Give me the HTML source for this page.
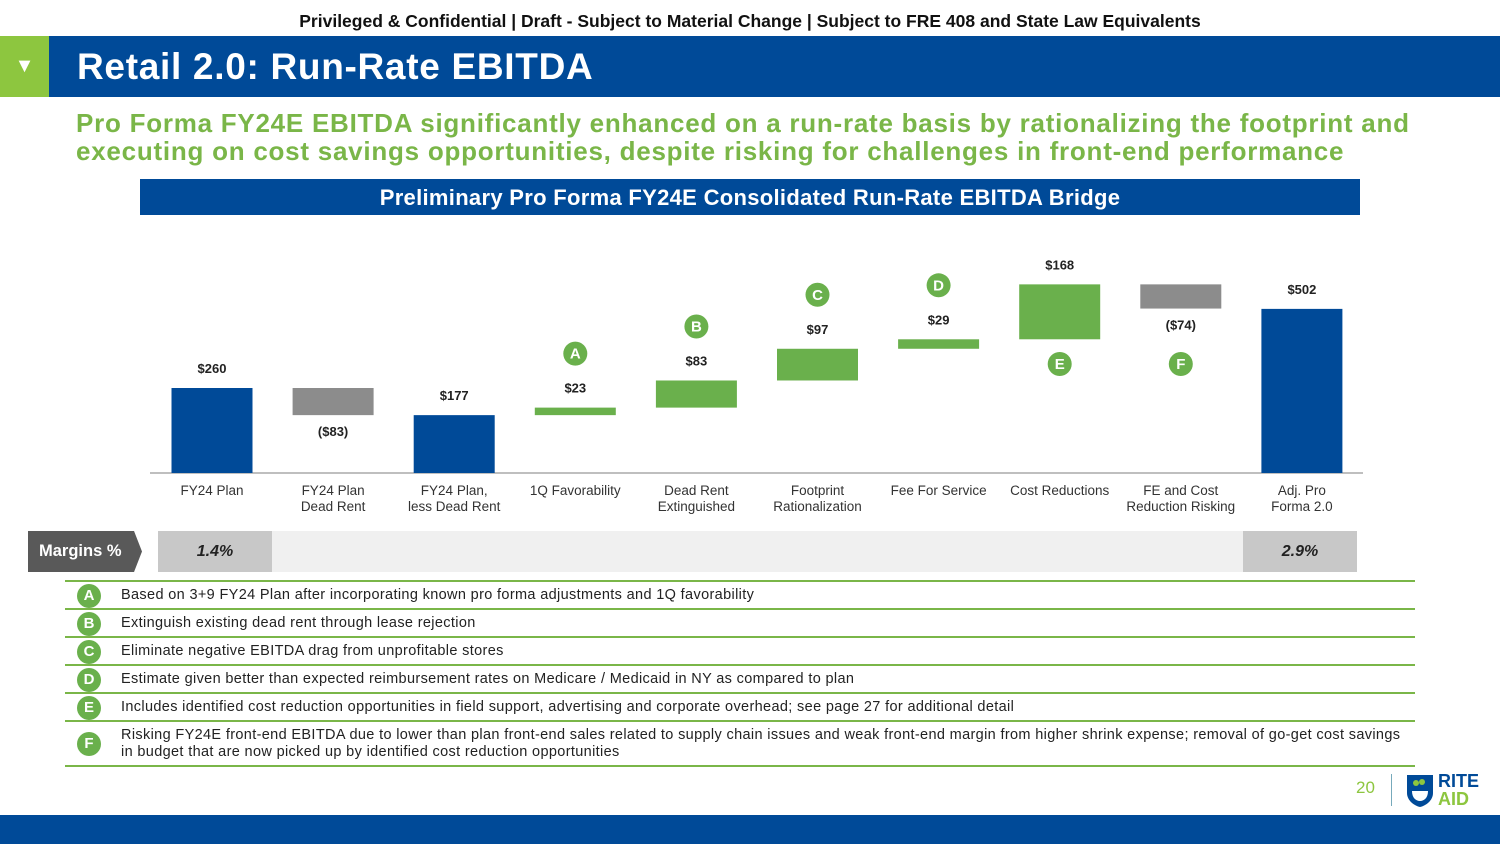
<!DOCTYPE html>
<html><head><meta charset="utf-8"><style>
body{margin:0;width:1500px;height:844px;position:relative;background:#fff;font-family:"Liberation Sans",sans-serif;overflow:hidden}
.abs{position:absolute}
.fn{font-family:"Liberation Sans",sans-serif;font-weight:bold}
.note{position:absolute;left:65px;width:1350px;border-bottom:2px solid #7ab648;font-size:14.5px;letter-spacing:0.35px;color:#222}
.circ{position:absolute;left:12px;width:24px;height:24px;border-radius:50%;background:#6ab04c;color:#fff;font-weight:bold;font-size:15px;text-align:center;line-height:24px;letter-spacing:0}
</style></head><body>
<div class="abs fn" style="left:0;top:11px;width:1500px;text-align:center;font-size:17.5px;color:#111">Privileged &amp; Confidential | Draft - Subject to Material Change | Subject to FRE 408 and State Law Equivalents</div>
<div class="abs" style="left:0;top:36px;width:1500px;height:61px;background:#004a98"></div>
<div class="abs" style="left:0;top:36px;width:49px;height:61px;background:#8dc63f;color:#fff;font-size:20px;text-align:center;line-height:61px">▼</div>
<div class="abs fn" style="left:77px;top:46px;font-size:37px;letter-spacing:0.7px;color:#fff">Retail 2.0: Run-Rate EBITDA</div>
<div class="abs fn" style="left:76px;top:109px;font-size:26px;line-height:28px;letter-spacing:0.75px;color:#7ab648;white-space:nowrap">Pro Forma FY24E EBITDA significantly enhanced on a run-rate basis by rationalizing the footprint and<br>executing on cost savings opportunities, despite risking for challenges in front-end performance</div>
<div class="abs fn" style="left:140px;top:179px;width:1220px;height:36px;background:#004a98;color:#fff;font-size:22px;letter-spacing:0.3px;text-align:center;line-height:37px">Preliminary Pro Forma FY24E Consolidated Run-Rate EBITDA Bridge</div>
<svg id="chart" class="abs" style="left:0;top:0" width="1500" height="530"></svg>
<div class="abs fn" style="left:28px;top:531px;width:114px;height:41px;background:#595959;color:#fff;font-size:16.5px;line-height:41px;padding-left:11px;box-sizing:border-box;clip-path:polygon(0 0,93% 0,100% 50%,93% 100%,0 100%)">Margins %</div>
<div class="abs" style="left:158px;top:531px;width:1199px;height:41px;background:#f0f0f0"></div>
<div class="abs fn" style="left:158px;top:531px;width:114px;height:41px;background:#c8c8c8;font-style:italic;font-size:16px;line-height:41px;text-align:center;color:#222">1.4%</div>
<div class="abs fn" style="left:1243px;top:531px;width:114px;height:41px;background:#c8c8c8;font-style:italic;font-size:16px;line-height:41px;text-align:center;color:#222">2.9%</div>
<div class="abs" style="left:65px;top:580px;width:1350px;border-top:2px solid #7ab648"></div>
<div class="note" style="top:582px;height:26px"><span class="circ" style="top:2px">A</span><span class="abs" style="left:56px;top:5px">Based on 3+9 FY24 Plan after incorporating known pro forma adjustments and 1Q favorability</span></div>
<div class="note" style="top:610px;height:26px"><span class="circ" style="top:2px">B</span><span class="abs" style="left:56px;top:5px">Extinguish existing dead rent through lease rejection</span></div>
<div class="note" style="top:638px;height:26px"><span class="circ" style="top:2px">C</span><span class="abs" style="left:56px;top:5px">Eliminate negative EBITDA drag from unprofitable stores</span></div>
<div class="note" style="top:666px;height:26px"><span class="circ" style="top:2px">D</span><span class="abs" style="left:56px;top:5px">Estimate given better than expected reimbursement rates on Medicare / Medicaid in NY as compared to plan</span></div>
<div class="note" style="top:694px;height:26px"><span class="circ" style="top:2px">E</span><span class="abs" style="left:56px;top:5px">Includes identified cost reduction opportunities in field support, advertising and corporate overhead; see page 27 for additional detail</span></div>
<div class="note" style="top:722px;height:43px"><span class="circ" style="top:10px">F</span><span class="abs" style="left:56px;top:5px;line-height:17px;width:1290px">Risking FY24E front-end EBITDA due to lower than plan front-end sales related to supply chain issues and weak front-end margin from higher shrink expense; removal of go-get cost savings in budget that are now picked up by identified cost reduction opportunities</span></div>
<div class="abs" style="left:1356px;top:778px;font-size:17px;color:#8dc63f">20</div>
<div class="abs" style="left:1391px;top:774px;width:1px;height:32px;background:#7ab"></div>
<svg class="abs" style="left:1405px;top:773px" width="30" height="36"><path d="M2 2H28V20C28 28 20 33 15 34C10 33 2 28 2 20Z" fill="#004a98"/><path d="M7 18H23C23 25 19 28 15 28C11 28 7 25 7 18Z" fill="#fff"/><circle cx="11" cy="10" r="3" fill="#8dc63f"/><circle cx="17" cy="9" r="3" fill="#8dc63f"/></svg>
<div class="abs fn" style="left:1438px;top:772px;font-size:18px;line-height:18px"><span style="color:#004a98">RITE</span><br><span style="color:#8dc63f">AID</span></div>
<div class="abs" style="left:0;top:815px;width:1500px;height:29px;background:#004a98"></div>
<script>
const categories=["FY24 Plan","FY24 Plan|Dead Rent","FY24 Plan,|less Dead Rent","1Q Favorability","Dead Rent|Extinguished","Footprint|Rationalization","Fee For Service","Cost Reductions","FE and Cost|Reduction Risking","Adj. Pro|Forma 2.0"];
const values=[260,-83,177,23,83,97,29,168,-74,502];
const kinds=["total","delta","total","delta","delta","delta","delta","delta","delta","total"];
const labels=["$260","($83)","$177","$23","$83","$97","$29","$168","($74)","$502"];
const markers=["","","","A","B","C","D","E","F",""];
const svg=document.getElementById('chart');const NS='http://www.w3.org/2000/svg';
const base=473,scale=85/260,x0=212,step=121.1,bw=81;
const y=v=>base-v*scale;
function mk(t,a){const e=document.createElementNS(NS,t);for(const k in a)e.setAttribute(k,a[k]);svg.appendChild(e);return e;}
const ax=mk('line',{x1:150,x2:1363,y1:base,y2:base,stroke:'#aaa','stroke-width':1.5});


let run=0;
categories.forEach((c,i)=>{
 const cx=x0+i*step,v=values[i];let lo,hi,col;
 if(kinds[i]==='total'){lo=0;hi=v;run=v;col='#004a98';}
 else{lo=Math.min(run,run+v);hi=Math.max(run,run+v);run+=v;col=v<0?'#8c8c8c':'#6ab04c';}
 const r=mk('rect',{x:cx-bw/2,y:y(hi),width:bw,height:Math.max(1,y(lo)-y(hi)),fill:col});
 
 
 const neg=v<0;
 const ly=neg?y(lo)+21:y(hi)-15;
 const t=mk('text',{x:cx,y:ly,'text-anchor':'middle','font-size':13,'font-weight':'bold',fill:'#222','font-family':'Liberation Sans'});t.textContent=labels[i];
 
 
 c.split('|').forEach((ln,j)=>{const tt=mk('text',{x:cx,y:495+j*16,'text-anchor':'middle','font-size':13.5,fill:'#333','font-family':'Liberation Sans'});tt.textContent=ln;
  
  });
 if(markers[i]){const below=(markers[i]==='E'||markers[i]==='F');const cy=below?base-109:ly-39;
  const g=mk('circle',{cx:cx,cy:cy,r:12,fill:'#6ab04c'});
  
  
  const mt=mk('text',{x:cx,y:cy+5,'text-anchor':'middle','font-size':15,'font-weight':'bold',fill:'#fff','font-family':'Liberation Sans'});mt.textContent=markers[i];}
});
</script>
</body></html>
